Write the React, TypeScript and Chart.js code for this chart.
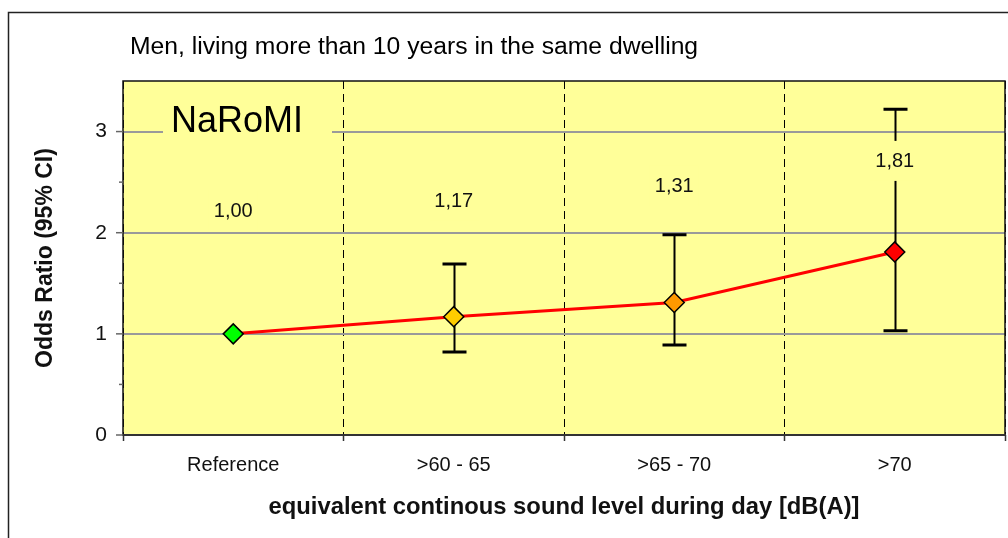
import React, { useEffect, useRef } from 'react';
import { Chart, registerables } from 'chart.js';

Chart.register(...registerables);

const categories = ['Reference', '>60 - 65', '>65 - 70', '>70'];
const oddsRatios = [1.0, 1.17, 1.31, 1.81];
const ciLower: (number | null)[] = [null, 0.82, 0.89, 1.03];
const ciUpper: (number | null)[] = [null, 1.69, 1.98, 3.22];
const valueLabels = ['1,00', '1,17', '1,31', '1,81'];
const valueLabelY = [2.22, 2.32, 2.47, 2.71];
const markerColors = ['#00FF00', '#FFCC00', '#FF9900', '#FF0000'];
const yMajorTicks = [0, 1, 2, 3];
const yMinorTicks = [0.5, 1.5, 2.5];

const FONT = '"Liberation Sans", Arial, Helvetica, sans-serif';

const decor = {
  id: 'decor',
  beforeDraw(chart: any) {
    const { ctx, chartArea: a } = chart;
    ctx.save();
    ctx.fillStyle = '#ffffff';
    ctx.fillRect(0, 0, chart.width, chart.height);
    ctx.fillStyle = '#FFFF99';
    ctx.fillRect(a.left, a.top, a.right - a.left, a.bottom - a.top);
    ctx.strokeStyle = '#222';
    ctx.lineWidth = 1.5;
    ctx.strokeRect(8.5, 12.5, chart.width + 20, chart.height + 20);
    ctx.fillStyle = '#000';
    ctx.font = `24.7px ${FONT}`;
    ctx.textAlign = 'left';
    ctx.textBaseline = 'alphabetic';
    ctx.fillText('Men, living more than 10 years in the same dwelling', a.left + 7, 54);
    ctx.restore();
  },
  beforeDatasetsDraw(chart: any) {
    const { ctx, chartArea: a } = chart;
    const xs = chart.scales.x;
    const ys = chart.scales.y;
    ctx.save();
    // NaRoMI label box
    ctx.fillStyle = '#FFFF99';
    ctx.fillRect(a.left + 40, a.top + 22, 169, 40);
    ctx.fillStyle = '#000';
    ctx.font = `36px ${FONT}`;
    ctx.textAlign = 'left';
    ctx.textBaseline = 'alphabetic';
    ctx.fillText('NaRoMI', a.left + 48, a.top + 51);
    // frame
    ctx.strokeStyle = '#111';
    ctx.lineWidth = 1.5;
    ctx.beginPath();
    ctx.moveTo(a.left, a.bottom);
    ctx.lineTo(a.left, a.top);
    ctx.lineTo(a.right, a.top);
    ctx.lineTo(a.right, a.bottom);
    ctx.stroke();
    ctx.strokeStyle = '#333';
    ctx.lineWidth = 2;
    ctx.beginPath();
    ctx.moveTo(a.left - 1, a.bottom);
    ctx.lineTo(a.right + 1, a.bottom);
    ctx.stroke();
    // y ticks
    ctx.strokeStyle = '#666';
    ctx.lineWidth = 1.5;
    yMajorTicks.forEach((v) => {
      const y = ys.getPixelForValue(v);
      ctx.beginPath();
      ctx.moveTo(a.left - 7, y);
      ctx.lineTo(a.left, y);
      ctx.stroke();
    });
    yMinorTicks.forEach((v) => {
      const y = ys.getPixelForValue(v);
      ctx.beginPath();
      ctx.moveTo(a.left - 4, y);
      ctx.lineTo(a.left, y);
      ctx.stroke();
    });
    // error bars
    ctx.strokeStyle = '#000';
    categories.forEach((_, i) => {
      const lo = ciLower[i];
      const hi = ciUpper[i];
      if (lo == null || hi == null) return;
      const x = Math.round(xs.getPixelForValue(i)) + 0.5;
      const yl = ys.getPixelForValue(lo);
      const yh = ys.getPixelForValue(hi);
      ctx.lineWidth = 2;
      ctx.beginPath();
      ctx.moveTo(x, yl);
      ctx.lineTo(x, yh);
      ctx.stroke();
      ctx.lineWidth = 3;
      ctx.beginPath();
      ctx.moveTo(x - 12, yl);
      ctx.lineTo(x + 12, yl);
      ctx.moveTo(x - 12, yh);
      ctx.lineTo(x + 12, yh);
      ctx.stroke();
    });
    ctx.restore();
  },
  afterDatasetsDraw(chart: any) {
    const { ctx } = chart;
    const xs = chart.scales.x;
    const ys = chart.scales.y;
    ctx.save();
    ctx.font = `20px ${FONT}`;
    ctx.textAlign = 'center';
    ctx.textBaseline = 'middle';
    valueLabels.forEach((t, i) => {
      const x = xs.getPixelForValue(i);
      const y = ys.getPixelForValue(valueLabelY[i]);
      const w = ctx.measureText(t).width + 10;
      ctx.fillStyle = '#FFFF99';
      ctx.fillRect(x - w / 2, y - 20, w, 40);
      ctx.fillStyle = '#111';
      ctx.fillText(t, x, y + 1);
    });
    ctx.restore();
  },
};

export default function App() {
  const ref = useRef<HTMLCanvasElement | null>(null);
  useEffect(() => {
    if (!ref.current) return;
    const chart = new Chart(ref.current, {
      type: 'line',
      data: {
        labels: categories,
        datasets: [
          {
            data: oddsRatios,
            borderColor: '#FF0000',
            borderWidth: 3,
            tension: 0,
            fill: false,
            pointStyle: 'rectRot',
            pointRadius: 10,
            pointHoverRadius: 10,
            pointBackgroundColor: markerColors,
            pointBorderColor: '#000',
            pointBorderWidth: 1.5,
            clip: false as any,
          },
        ],
      },
      options: {
        responsive: false,
        animation: false,
        devicePixelRatio: 1,
        layout: { autoPadding: false, padding: { top: 81, left: 0, right: 3, bottom: 0 } },
        plugins: {
          legend: { display: false },
          tooltip: { enabled: false },
          title: { display: false },
        },
        scales: {
          x: {
            type: 'category',
            offset: true,
            afterFit: (s: any) => {
              s.height = 103;
              s.paddingLeft = 0;
              s.paddingRight = 0;
            },
            grid: {
              offset: true,
              color: '#000',
              lineWidth: 1,
              drawTicks: true,
              tickLength: 6,
              tickColor: '#333',
              tickWidth: 1.5,
              tickBorderDash: [],
            },
            border: { display: false, dash: [8, 5] },
            ticks: {
              color: '#111',
              font: { family: FONT, size: 20 },
              padding: 12,
              maxRotation: 0,
            },
            title: {
              display: true,
              text: 'equivalent continous sound level during day [dB(A)]',
              color: '#111',
              font: { family: FONT, size: 23.8, weight: 'bold' },
              padding: { top: 0, bottom: 16 },
            },
          },
          y: {
            min: 0,
            max: 3.5,
            afterFit: (s: any) => {
              s.width = 123;
            },
            ticks: {
              stepSize: 0.5,
              color: '#111',
              font: { family: FONT, size: 21 },
              padding: 16,
              callback: (v: any) => (Number.isInteger(v) ? String(v) : ''),
            },
            grid: {
              drawTicks: false,
              lineWidth: 2,
              color: (c: any) =>
                c.tick && Number.isInteger(c.tick.value) && c.tick.value > 0 ? '#9a9a9a' : 'rgba(0,0,0,0)',
            },
            border: { display: false },
            title: {
              display: true,
              text: 'Odds Ratio (95% CI)',
              color: '#111',
              font: { family: FONT, size: 23, weight: 'bold' },
              padding: { top: 32, bottom: 0 },
            },
          },
        },
      },
      plugins: [decor],
    });
    return () => chart.destroy();
  }, []);
  return (
    <div style={{ position: 'fixed', left: 0, top: 0, width: 1008, height: 538 }}>
      <canvas ref={ref} width={1008} height={538} style={{ display: 'block' }} />
    </div>
  );
}
